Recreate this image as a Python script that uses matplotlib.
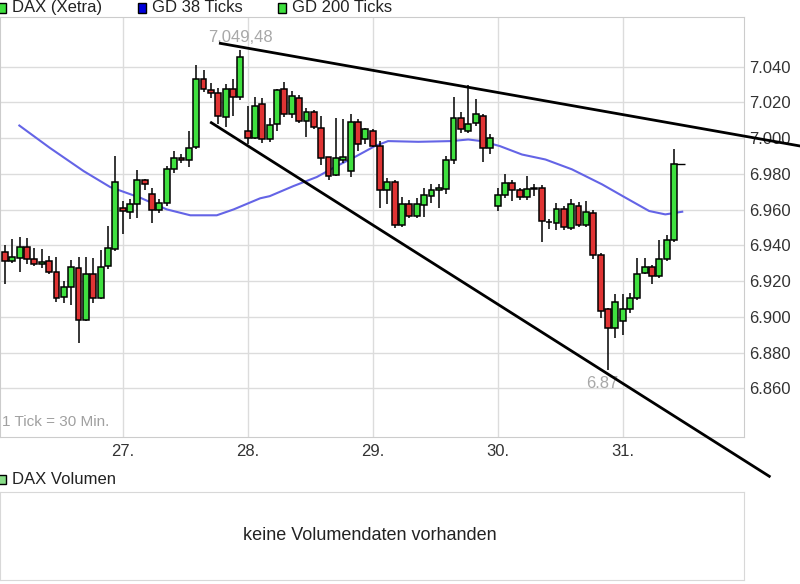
import matplotlib
matplotlib.use("Agg")
from matplotlib import pyplot as plt
from matplotlib.patches import Rectangle

plt.rcParams['font.family'] = ['Liberation Sans', 'DejaVu Sans']

# DAX (Xetra), 30 min candles, 26. - 31.
opens = [6936.4, 6931.2, 6932.7, 6939.2, 6932.2, 6929.4, 6931.2, 6925.2, 6911.1, 6916.7,
         6927.5, 6898.1, 6924.1, 6910.7, 6928.4, 6937.8, 6960.7, 6958.8, 6962.9, 6976.3,
         6968.8, 6959.6, 6963.8, 6982.5, 6988.9, 6987.7, 6994.9, 7033.3, 7026.6, 7025.3,
         7011.7, 7027.5, 7022.8, 7004.2, 7000.1, 7019.3, 6999.2, 7007.6, 7027.7, 7013.2,
         7022.5, 7009.8, 7014.6, 7005.7, 6989.3, 6979.3, 6988.0, 6981.5, 7009.0, 6999.2,
         7003.9, 6995.5, 6970.7, 6975.5, 6951.3, 6962.9, 6956.4, 6962.5, 6967.5, 6970.7,
         6971.3, 6987.5, 7011.0, 7004.2, 7008.5, 7012.2, 6994.5, 6962.0, 6968.1, 6975.0,
         6970.7, 6967.0, 6971.3, 6972.2, 6953.0, 6952.6, 6960.1, 6949.5, 6962.0, 6951.3,
         6958.2, 6934.6, 6904.2, 6893.6, 6897.7, 6904.2, 6910.4, 6924.7, 6927.9, 6922.8,
         6932.2, 6942.8]
highs = [6940.0, 6943.3, 6944.6, 6943.9, 6938.7, 6937.8, 6934.0, 6933.5, 6920.0, 6932.0,
         6933.5, 6933.5, 6933.0, 6937.2, 6950.8, 6989.9, 6964.7, 6965.7, 6981.9, 6977.0,
         6972.2, 6965.7, 6984.3, 6992.7, 6991.2, 7003.9, 7041.1, 7037.8, 7030.8, 7028.0,
         7030.0, 7033.3, 7049.5, 7017.8, 7022.9, 7022.5, 7011.3, 7027.5, 7031.2, 7026.2,
         7024.0, 7016.9, 7015.5, 7012.2, 6989.5, 7011.3, 7010.4, 7013.5, 7010.5, 7005.7,
         7004.8, 6998.3, 6977.8, 6976.5, 6967.0, 6965.5, 6966.6, 6971.8, 6974.1, 6974.1,
         6989.9, 7022.9, 7014.6, 7029.6, 7022.1, 7013.5, 7002.0, 6972.2, 6979.7, 6976.5,
         6972.0, 6978.7, 6974.1, 6974.0, 6955.0, 6963.8, 6962.0, 6965.7, 6964.0, 6964.7,
         6960.0, 6935.5, 6905.0, 6913.0, 6913.0, 6913.5, 6932.7, 6933.1, 6929.0, 6942.8,
         6945.8, 6993.6]
lows = [6918.2, 6930.3, 6925.3, 6929.4, 6928.5, 6927.5, 6924.0, 6908.3, 6908.0, 6906.6,
        6885.6, 6897.5, 6908.0, 6909.8, 6927.0, 6937.0, 6946.1, 6954.5, 6955.4, 6970.7,
        6952.6, 6958.2, 6962.0, 6980.6, 6986.1, 6983.7, 6994.0, 7025.8, 7022.5, 7007.9,
        7006.1, 7012.2, 7021.0, 6996.4, 6999.2, 6997.3, 6998.0, 7004.2, 7012.0, 7011.3,
        7008.5, 7000.5, 7005.0, 6984.9, 6976.3, 6978.5, 6986.1, 6978.2, 6993.0, 6996.4,
        6995.0, 6960.7, 6962.9, 6949.8, 6950.5, 6955.4, 6955.4, 6955.8, 6963.8, 6961.0,
        6968.5, 6985.5, 7002.9, 7002.9, 7006.5, 6986.7, 6991.2, 6959.2, 6966.6, 6964.7,
        6965.1, 6965.5, 6967.5, 6942.0, 6948.9, 6948.5, 6948.4, 6948.5, 6950.0, 6950.0,
        6932.2, 6899.5, 6870.2, 6888.4, 6889.9, 6902.0, 6909.5, 6923.8, 6918.5, 6921.5,
        6931.0, 6942.0]
closes = [6931.2, 6933.5, 6939.2, 6932.2, 6929.4, 6930.8, 6925.2, 6910.7, 6916.7, 6927.9,
          6898.1, 6924.1, 6910.7, 6927.9, 6938.7, 6975.5, 6959.2, 6962.9, 6976.3, 6974.1,
          6959.6, 6963.5, 6982.5, 6988.9, 6987.5, 6994.2, 7033.3, 7027.2, 7025.1, 7012.2,
          7027.5, 7022.8, 7045.2, 7000.1, 7018.2, 6999.2, 7007.2, 7026.8, 7013.2, 7023.4,
          7009.8, 7014.6, 7006.1, 6988.9, 6978.7, 6988.6, 6989.3, 7009.0, 6996.8, 7004.8,
          6995.5, 6970.7, 6975.5, 6951.3, 6962.9, 6956.4, 6962.9, 6968.1, 6970.7, 6971.9,
          6987.5, 7011.0, 7004.8, 7008.0, 7013.5, 6994.5, 7000.1, 6968.1, 6975.0, 6970.7,
          6967.0, 6971.3, 6972.2, 6953.6, 6953.0, 6960.1, 6950.2, 6963.2, 6951.3, 6958.8,
          6934.6, 6903.3, 6893.6, 6908.3, 6904.2, 6910.4, 6924.1, 6927.9, 6922.8, 6932.2,
          6942.8, 6985.6]

# moving average (GD 38 Ticks), read at tick positions
ma_pos = [1.95, 6.1, 10.7, 14.3, 18.4, 22.0, 25.2, 28.8, 31.1, 34.7, 36.0, 39.2, 42.4, 45.1,
          47.8, 50.3, 52.1, 56.2, 60.7, 63.0, 64.8, 67.3, 70.3, 73.5, 77.1, 81.2, 84.4,
          87.6, 89.8, 92.1]
ma_val = [7007.0, 6994.5, 6981.5, 6972.6, 6966.6, 6960.1, 6956.8, 6956.8, 6960.1, 6966.3,
          6967.5, 6973.1, 6978.2, 6984.3, 6989.9, 6995.5, 6998.3, 6997.9, 6998.3, 6999.2,
          6998.3, 6995.5, 6990.8, 6988.0, 6982.5, 6974.1, 6966.6, 6959.2, 6957.3, 6958.8]

# trend lines (tick position, price)
upper_line = [(29.1, 7053.1), (108.2, 6995.5)]
lower_line = [(27.9, 7009.0), (104.1, 6810.4)]

day_ticks = [16, 33, 50, 67, 84]
day_labels = ['27.', '28.', '29.', '30.', '31.']
price_ticks = [6860, 6880, 6900, 6920, 6940, 6960, 6980, 7000, 7020, 7040]

green = '#3fe03f'
red = '#e03434'
grid_c = '#dcdcdc'

fig = plt.figure(figsize=(8, 5.84), dpi=100)
ax = fig.add_axes([0, 1 - 437 / 584, 744 / 800, 420 / 584])

# moving average behind the candles
ax.plot(ma_pos, ma_val, color='#6464e6', linewidth=1.5, zorder=2)

idx = list(range(len(opens)))
ax.vlines(idx, lows, highs, color='black', linewidth=1.1, zorder=3)
for i in idx:
    o, c = opens[i], closes[i]
    col = green if c >= o else red
    ax.bar(i, max(abs(c - o), 0.3), bottom=min(o, c), width=0.8, color=col,
           edgecolor='black', linewidth=1.1, zorder=4)

# last price marker
ax.hlines(closes[-1], idx[-1], idx[-1] + 1.5, color='black', linewidth=1, zorder=3)

# trend lines
for line in (upper_line, lower_line):
    ax.plot([p[0] for p in line], [p[1] for p in line], color='black',
            linewidth=2, clip_on=False, zorder=5, solid_capstyle='butt')

# high / low labels
hi = highs.index(max(highs))
lo = lows.index(min(lows))
ax.annotate('7.049,48', (hi, highs[hi]), xytext=(0, 3), textcoords='offset points',
            ha='center', va='bottom', fontsize=12, color='#a8a8a8')
ax.annotate('6.87', (lo, lows[lo]), xytext=(-4, -4), textcoords='offset points',
            ha='center', va='top', fontsize=12, color='#a8a8a8')

ax.text(0.003, 0.02, '1 Tick = 30 Min.', transform=ax.transAxes, fontsize=11,
        color='#a0a0a0', ha='left', va='bottom')

ax.set_xlim(-0.68, 100.5)
ax.set_ylim(6832.8, 7067.7)
ax.set_xticks(day_ticks)
ax.set_xticklabels(day_labels)
ax.set_yticks(price_ticks)
ax.set_yticklabels([f'{v:,.0f}'.replace(',', '.') for v in price_ticks])
ax.yaxis.tick_right()
ax.tick_params(axis='both', length=0, labelsize=12, labelcolor='#333333')
ax.tick_params(axis='y', pad=4)
ax.tick_params(axis='x', pad=5)
ax.grid(True, color=grid_c, linewidth=1)
ax.set_axisbelow(True)
for s in ax.spines.values():
    s.set_color('#cccccc')

# volume panel
vax = fig.add_axes([0, 4 / 584, 744 / 800, 88 / 584])
vax.set_xticks([])
vax.set_yticks([])
for s in vax.spines.values():
    s.set_color('#d8d8d8')
vax.text(0.497, 0.5, 'keine Volumendaten vorhanden', transform=vax.transAxes,
         ha='center', va='center', fontsize=13, color='#222222')


def legend_item(x, y, color, label):
    # small square with black frame plus text, pixel coords from top-left
    fig.add_artist(Rectangle((x / 800, 1 - (y + 5) / 584), 8 / 800, 9 / 584,
                             transform=fig.transFigure, facecolor=color,
                             edgecolor='black', linewidth=1))
    fig.text((x + 14) / 800, 1 - y / 584, label, fontsize=12, color='#222222',
             ha='left', va='center')


legend_item(-2, 7.5, green, 'DAX (Xetra)')
legend_item(138, 7.5, '#0000dd', 'GD 38 Ticks')
legend_item(278, 7.5, green, 'GD 200 Ticks')
legend_item(-2, 479, '#88dd88', 'DAX Volumen')

plt.savefig('out.png', dpi=100)
